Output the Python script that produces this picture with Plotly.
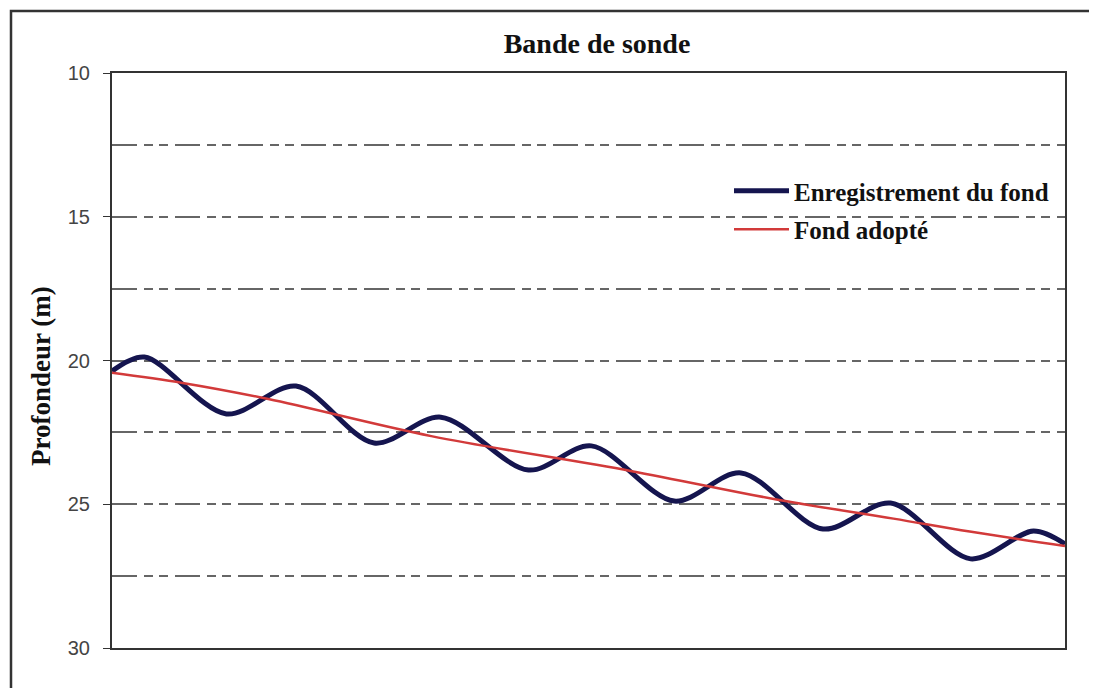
import plotly.graph_objects as go

# distance along the profile (0-100) and depth in metres
x_enreg = [0, 3.4, 12.0, 19.3, 27.5, 34.5, 43.7, 50.3, 59.0, 66.0, 74.6, 81.7, 90.1, 96.7, 100]
y_enreg = [20.37, 19.88, 21.86, 20.89, 22.87, 21.97, 23.81, 22.97, 24.89, 23.91, 25.86, 24.96, 26.90, 25.93, 26.38]

x_adopte = [0, 7.4, 16.4, 33.5, 54.4, 70.0, 82.0, 90.0, 100]
y_adopte = [20.43, 20.78, 21.34, 22.63, 23.84, 24.85, 25.5, 25.95, 26.45]

y_ticks = [10, 15, 20, 25, 30]

W, H = 1097, 688
OFF = 7  # page margin around the plot div
# wanted plot area, in page pixels
L, R, T, B = 111, 1064, 72, 647

fig = go.Figure()
fig.add_trace(go.Scatter(
    x=x_enreg, y=y_enreg, mode='lines', name='<b>Enregistrement du fond</b>',
    line=dict(color='#15154f', width=5, shape='spline', smoothing=0.9),
    legendgroup='a',
))
fig.add_trace(go.Scatter(
    x=x_adopte, y=y_adopte, mode='lines', name='<b>Fond adopté</b>',
    line=dict(color='#d23a3a', width=2.5, shape='spline'),
    legendgroup='b',
))

grid_dash = '25px,7px,9px,6px,9px,7px'

fig.update_layout(
    width=W, height=H,
    margin=dict(l=L - OFF, r=W + OFF - R, t=T - OFF, b=H + OFF - B),
    paper_bgcolor='white', plot_bgcolor='white',
    title=dict(text='<b>Bande de sonde</b>', x=(596 - OFF) / W, xanchor='center',
               y=1 - (42 - OFF) / H, yanchor='middle',
               font=dict(family='Liberation Serif', size=28, color='#111')),
    showlegend=True,
    legend=dict(x=(728 - L) / (R - L), y=(B - 167) / (B - T), xanchor='left', yanchor='top',
                bgcolor='rgba(0,0,0,0)', itemwidth=55, tracegroupgap=3,
                font=dict(family='Liberation Serif', size=25, color='#111')),
    font=dict(family='Liberation Sans', color='#333'),
)

fig.update_xaxes(
    range=[0, 100], showticklabels=False, ticks='', showgrid=False, zeroline=False,
    showline=True, mirror=True, linecolor='#333', linewidth=2,
)
fig.update_yaxes(
    range=[30, 10], tickvals=y_ticks, ticks='outside', ticklen=7, tickcolor='#333',
    ticklabelstandoff=9,
    tickfont=dict(family='Liberation Sans', size=20, color='#444'),
    showgrid=True, gridcolor='#666', gridwidth=1.5, griddash=grid_dash,
    minor=dict(dtick=2.5, tick0=10, showgrid=True, gridcolor='#666', gridwidth=1.5, griddash=grid_dash),
    zeroline=False, showline=True, mirror=True, linecolor='#333', linewidth=2,
)

# y axis title, placed by hand (sits a bit below the plot centre)
fig.add_annotation(text='<b>Profondeur (m)</b>', textangle=-90, showarrow=False,
                   xref='paper', yref='paper', xanchor='center', yanchor='middle',
                   x=(40 - L) / (R - L), y=(B - 375) / (B - T),
                   font=dict(family='Liberation Serif', size=27, color='#111'))

# outer frame of the picture
fig.add_shape(type='rect', xref='paper', yref='paper',
              x0=(10 - L) / (R - L), x1=(1110 - L) / (R - L),
              y0=(B - 700) / (B - T), y1=(B - 10) / (B - T),
              line=dict(color='#333', width=2.5))

fig.write_html('out.html')
